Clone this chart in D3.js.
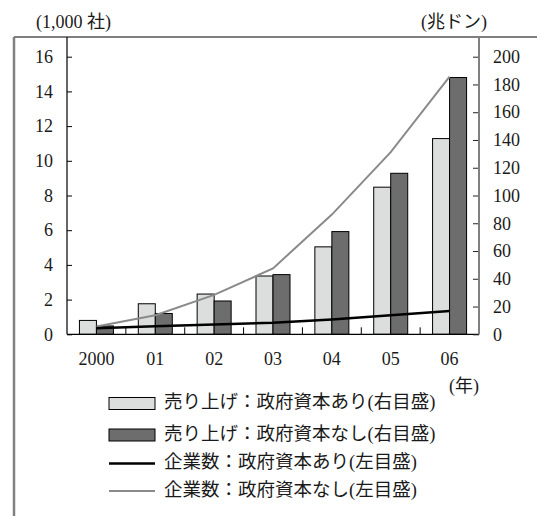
<!DOCTYPE html>
<html>
<head>
<meta charset="utf-8">
<script src="https://cdn.jsdelivr.net/npm/d3@7/dist/d3.min.js"></script>
<style>
  html, body { margin: 0; padding: 0; background: #fff; }
  svg { display: block; }
  text { fill: #1a1a1a; }
  .serif { font-family: "Liberation Serif", "Times New Roman", serif; }
  .mixed { font-family: "Liberation Serif", "Noto Sans CJK JP", serif; }
</style>
</head>
<body>
<svg id="chart" width="537" height="516"></svg>
<script>
// Categories (years) and tick labels
const years = ["2000", "01", "02", "03", "04", "05", "06"];
const leftTicks = [0, 2, 4, 6, 8, 10, 12, 14, 16];
const rightTicks = [0, 20, 40, 60, 80, 100, 120, 140, 160, 180, 200];

// Sales (trillion dong, right scale)
const salesWithGov = [10, 22, 29, 42, 63, 106, 141];
const salesWithoutGov = [6, 15, 24, 43, 74, 116, 185];

// Number of firms (thousand firms, left scale)
const firmsWithGov = [0.35, 0.46, 0.56, 0.67, 0.86, 1.1, 1.34];
const firmsWithoutGov = [0.45, 1.1, 2.27, 3.8, 6.9, 10.5, 14.85];

// Legend entries
const legendLabels = [
  "売り上げ：政府資本あり(右目盛)",
  "売り上げ：政府資本なし(右目盛)",
  "企業数：政府資本あり(左目盛)",
  "企業数：政府資本なし(左目盛)"
];

const svg = d3.select("#chart");

const plot = { left: 67, right: 479, top: 37, bottom: 334.3 };

const x = d3.scaleBand().domain(years).range([plot.left, plot.right]).padding(0);
const bw = x.bandwidth();
const xs = d3.scaleBand().domain(["with", "without"]).range([bw / 2 - 17, bw / 2 + 17]).padding(0);

const yL = d3.scaleLinear().domain([0, 16]).range([plot.bottom, 56.7]);
const yR = d3.scaleLinear().domain([0, 200]).range([plot.bottom, 56.7]);

const colors = { lightBar: "#dcdddd", darkBar: "#6d6d6d", blackLine: "#000", grayLine: "#8a8a8a", frame: "#808080" };

// Outer frame: top rule and left border
svg.append("line").attr("x1", 14).attr("x2", 537).attr("y1", plot.top).attr("y2", plot.top)
  .attr("stroke", "#000").attr("stroke-width", 1.2);
svg.append("line").attr("x1", 14).attr("x2", 14).attr("y1", plot.top).attr("y2", 516)
  .attr("stroke", colors.frame).attr("stroke-width", 2.5);

// Bars
const barData = years.map((y, i) => ({ year: y, with: salesWithGov[i], without: salesWithoutGov[i] }));
const groups = svg.append("g").selectAll("g").data(barData).join("g")
  .attr("transform", d => `translate(${x(d.year)},0)`);
groups.selectAll("rect").data(d => [
  { key: "with", v: d.with, fill: colors.lightBar },
  { key: "without", v: d.without, fill: colors.darkBar }
]).join("rect")
  .attr("x", d => xs(d.key))
  .attr("width", xs.bandwidth())
  .attr("y", d => yR(d.v))
  .attr("height", d => plot.bottom - yR(d.v))
  .attr("fill", d => d.fill)
  .attr("stroke", "#000")
  .attr("stroke-width", 1);

// Lines
const line = d3.line()
  .x((d, i) => x(years[i]) + bw / 2)
  .y(d => yL(d));
svg.append("path").datum(firmsWithoutGov).attr("d", line)
  .attr("fill", "none").attr("stroke", colors.grayLine).attr("stroke-width", 2);
svg.append("path").datum(firmsWithGov).attr("d", line)
  .attr("fill", "none").attr("stroke", colors.blackLine).attr("stroke-width", 2.5);

// X baseline and category separators
svg.append("line").attr("x1", plot.left).attr("x2", plot.right).attr("y1", plot.bottom).attr("y2", plot.bottom)
  .attr("stroke", "#000").attr("stroke-width", 1.2);
const bounds = years.slice(1).map(y => x(y)).concat([plot.right]);
svg.append("g").selectAll("line").data(bounds).join("line")
  .attr("x1", d => d).attr("x2", d => d)
  .attr("y1", plot.bottom).attr("y2", plot.bottom - 7)
  .attr("stroke", "#000").attr("stroke-width", 1);
svg.append("g").selectAll("text").data(years).join("text")
  .attr("class", "serif")
  .attr("x", d => x(d) + bw / 2)
  .attr("y", 365)
  .attr("text-anchor", "middle")
  .attr("font-size", 18)
  .text(d => d);

// Left axis
const axL = svg.append("g").attr("transform", `translate(${plot.left},0)`)
  .call(d3.axisLeft(yL).tickValues(leftTicks).tickSizeInner(-5).tickSizeOuter(0).tickPadding(14));
axL.attr("font-family", null);
axL.select(".domain").remove();
axL.selectAll(".tick line").attr("stroke", "#000");
axL.selectAll(".tick text").attr("class", "serif").attr("font-size", 18).attr("fill", "#1a1a1a");
svg.append("line").attr("x1", plot.left).attr("x2", plot.left).attr("y1", plot.top).attr("y2", plot.bottom)
  .attr("stroke", "#000").attr("stroke-width", 1.2);

// Right axis
const axR = svg.append("g").attr("transform", `translate(${plot.right},0)`)
  .call(d3.axisRight(yR).tickValues(rightTicks).tickSizeInner(-6).tickSizeOuter(0).tickPadding(14));
axR.attr("font-family", null);
axR.select(".domain").remove();
axR.selectAll(".tick line").attr("stroke", "#222");
axR.selectAll(".tick text").attr("class", "serif").attr("font-size", 18).attr("fill", "#1a1a1a");
svg.append("line").attr("x1", plot.right).attr("x2", plot.right).attr("y1", plot.top).attr("y2", plot.bottom)
  .attr("stroke", colors.frame).attr("stroke-width", 2);

// Unit labels
svg.append("text").attr("class", "mixed").attr("x", 36).attr("y", 28).attr("font-size", 18).text("(1,000 社)");
svg.append("text").attr("class", "mixed").attr("x", 421).attr("y", 28).attr("font-size", 18).text("(兆ドン)");
svg.append("text").attr("class", "mixed").attr("x", 449).attr("y", 392).attr("font-size", 18).text("(年)");

// Legend
const rows = [403.5, 435, 463.5, 491];
const leg = svg.append("g");
legendLabels.forEach((label, i) => {
  const cy = rows[i];
  if (i < 2) {
    leg.append("rect").attr("x", 109).attr("y", cy - 6).attr("width", 46).attr("height", 12)
      .attr("fill", i === 0 ? colors.lightBar : colors.darkBar).attr("stroke", "#000").attr("stroke-width", 1);
  } else {
    leg.append("line").attr("x1", 109).attr("x2", 155).attr("y1", cy).attr("y2", cy)
      .attr("stroke", i === 2 ? colors.blackLine : colors.grayLine).attr("stroke-width", i === 2 ? 2.5 : 2);
  }
  leg.append("text").attr("class", "mixed").attr("x", 164).attr("y", cy - 1.5).attr("dy", "0.35em")
    .attr("font-size", 18.5).text(label);
});
</script>
</body>
</html>
